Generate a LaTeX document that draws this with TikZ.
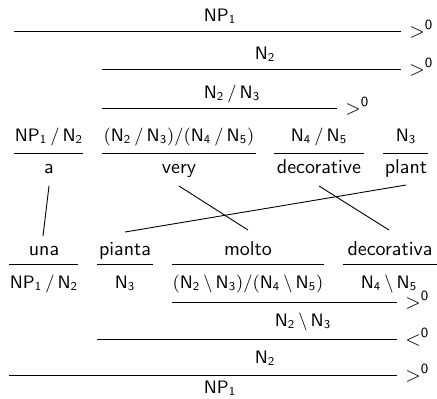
\documentclass[tikz,border=0pt]{standalone}
\usetikzlibrary{calc}
% category notation
\newcommand{\cN}[1]{\mathsf{N}_{\mathsf{#1}}}
\newcommand{\cNP}{\mathsf{NP}_{\mathsf{1}}}
\newcommand{\fsl}{\mkern3mu/\mkern3mu}
\newcommand{\bsl}{\mkern3mu\backslash\mkern3mu}
\newcommand{\appR}{>^{\mathsf{0}}}
\newcommand{\appL}{<^{\mathsf{0}}}
\begin{document}
\begin{tikzpicture}[x=0.5pt,y=-0.5pt,
  txt/.style={font=\sffamily, inner sep=0pt, anchor=base},
  cat/.style={font=\fontsize{8.8}{10}\selectfont\sffamily, inner sep=0pt, anchor=base},
  mk/.style={inner sep=0pt, anchor=base west},
  rule/.style={line width=0.5pt},
  link/.style={line width=0.45pt}]
\useasboundingbox (0,0) rectangle (437,398);

% ---------- upper derivation ----------
\coordinate (u1a) at (14,31);  \coordinate (u1b) at (401,31);
\coordinate (u2a) at (102,69); \coordinate (u2b) at (401,69);
\coordinate (u3a) at (102,108);\coordinate (u3b) at (337,108);
\draw[rule] (u1a) -- (u1b);
\draw[rule] (u2a) -- (u2b);
\draw[rule] (u3a) -- (u3b);
\node[cat] (uNP)  at (220,21) {$\cNP$};
\node[cat] (uN2)  at (265,59) {$\cN2$};
\node[cat] (uN23) at (232,98) {$\cN2\fsl\cN3$};
\node[mk] (um1) at ([shift={(8,6)}]u1b) {$\appR$};
\node[mk] (um2) at ([shift={(8,6)}]u2b) {$\appR$};
\node[mk] (um3) at ([shift={(8,6)}]u3b) {$\appR$};

% lexical categories and words (English)
\coordinate (e1a) at (14,153);  \coordinate (e1b) at (83,153);
\coordinate (e2a) at (102,153); \coordinate (e2b) at (256,153);
\coordinate (e3a) at (274,153); \coordinate (e3b) at (364,153);
\coordinate (e4a) at (383,153); \coordinate (e4b) at (428,153);
\draw[rule] (e1a) -- (e1b);
\draw[rule] (e2a) -- (e2b);
\draw[rule] (e3a) -- (e3b);
\draw[rule] (e4a) -- (e4b);
\node[cat] (cA)     at (49,141)  {$\cNP\fsl\cN2$};
\node[cat] (cVery)  at (179,141) {$(\cN2\fsl\cN3)/(\cN4\fsl\cN5)$};
\node[cat] (cDec)   at (319,141) {$\cN4\fsl\cN5$};
\node[cat] (cPlant) at (406,141) {$\cN3$};
\node[txt] (wA)     at (49,173)  {a};
\node[txt] (wVery)  at (179,173) {very};
\node[txt] (wDec)   at (319,173) {decorative};
\node[txt] (wPlant) at (406,173) {plant};

% words (Italian) and their categories
\node[txt] (wUna)   at (44,255)  {una};
\node[txt] (wPia)   at (125,255) {pianta};
\node[txt] (wMol)   at (248,255) {molto};
\node[txt] (wDecI)  at (390,255) {decorativa};
\coordinate (i1a) at (9,264);   \coordinate (i1b) at (78,264);
\coordinate (i2a) at (97,264);  \coordinate (i2b) at (153,264);
\coordinate (i3a) at (172,264); \coordinate (i3b) at (324,264);
\coordinate (i4a) at (343,264); \coordinate (i4b) at (437,264);
\draw[rule] (i1a) -- (i1b);
\draw[rule] (i2a) -- (i2b);
\draw[rule] (i3a) -- (i3b);
\draw[rule] (i4a) -- (i4b);
\node[cat] (cUna) at (44,288)  {$\cNP\fsl\cN2$};
\node[cat] (cPia) at (125,288) {$\cN3$};
\node[cat] (cMol) at (248,288) {$(\cN2\bsl\cN3)/(\cN4\bsl\cN5)$};
\node[cat] (cDecI) at (389,288) {$\cN4\bsl\cN5$};

% word alignment
\draw[link] ([shift={(0,13)}]wA.base)     -- ([shift={(-1,-19)}]wUna.base);
\draw[link] ([shift={(0,13)}]wVery.base)  -- ([shift={(0,-25)}]wMol.base);
\draw[link] ([shift={(0,13)}]wDec.base)   -- ([shift={(-1,-25)}]wDecI.base);
\draw[link] ([shift={(0,12)}]wPlant.base) -- ([shift={(0,-23)}]wPia.base);

% ---------- lower derivation ----------
\coordinate (l1a) at (172,302); \coordinate (l1b) at (397,302);
\coordinate (l2a) at (97,339);  \coordinate (l2b) at (397,339);
\coordinate (l3a) at (9,375);   \coordinate (l3b) at (397,375);
\draw[rule] (l1a) -- (l1b);
\draw[rule] (l2a) -- (l2b);
\draw[rule] (l3a) -- (l3b);
\node[mk] (lm1) at ([shift={(8,6)}]l1b) {$\appR$};
\node[mk] (lm2) at ([shift={(8,6)}]l2b) {$\appL$};
\node[mk] (lm3) at ([shift={(8,6)}]l3b) {$\appR$};
\node[cat] (lN23) at (303,326) {$\cN2\bsl\cN3$};
\node[cat] (lN2)  at (265,363) {$\cN2$};
\node[cat] (lNP)  at (220,393) {$\cNP$};
\end{tikzpicture}
\end{document}
